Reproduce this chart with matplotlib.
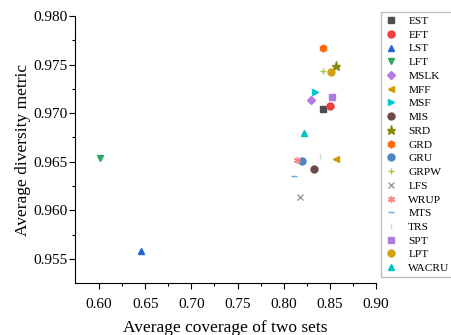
import matplotlib.pyplot as plt

plt.rcParams["font.family"] = ["Liberation Serif", "DejaVu Serif"]

names = ["EST", "EFT", "LST", "LFT", "MSLK", "MFF", "MSF", "MIS", "SRD", "GRD",
         "GRU", "GRPW", "LFS", "WRUP", "MTS", "TRS", "SPT", "LPT", "WACRU"]
coverage = [0.842, 0.850, 0.645, 0.601, 0.829, 0.857, 0.834, 0.833, 0.857, 0.843,
            0.820, 0.843, 0.818, 0.814, 0.811, 0.839, 0.852, 0.851, 0.822]
diversity = [0.9704, 0.9707, 0.9558, 0.9654, 0.9714, 0.9653, 0.9722, 0.9642, 0.9749, 0.9767,
             0.9651, 0.9743, 0.9614, 0.9652, 0.9635, 0.9656, 0.9717, 0.9742, 0.9680]

markers = ["s", "o", "^", "v", "D", "<", ">", "o", "*", "h",
           "o", "+", "x", (6, 2, 0), "_", "|", "s", "o", "^"]
colors = ["#4d4d4d", "#f23d3d", "#1f64d8", "#2aa85c", "#b57be6", "#d09a00", "#00c8d2",
          "#6e4848", "#8a8a10", "#ff6a10", "#4c86c8", "#9ccc3a", "#9a9a9a", "#ff8080",
          "#70a8f0", "#bfe6cf", "#b07be0", "#d4a010", "#00c2c2"]

fig = plt.figure(figsize=(4.52, 3.35), dpi=100)
ax = fig.add_axes([0.166, 0.155, 0.666, 0.797])

for name, x, y, m, c in zip(names, coverage, diversity, markers, colors):
    size = 5
    if m == "D":
        size = 4
    elif m == "*":
        size = 6.5
    ax.plot([x], [y], linestyle="none", marker=m, color=c, markersize=size,
            markeredgewidth=1.0, label=name)

ax.set_xlim(0.574, 0.90)
ax.set_ylim(0.9525, 0.980)
ax.set_xticks([0.60, 0.65, 0.70, 0.75, 0.80, 0.85, 0.90])
ax.set_xticks([0.625, 0.675, 0.725, 0.775, 0.825, 0.875], minor=True)
ax.set_yticks([0.955, 0.960, 0.965, 0.970, 0.975, 0.980])
ax.set_yticks([0.9575, 0.9625, 0.9675, 0.9725, 0.9775], minor=True)
ax.xaxis.set_major_formatter(plt.FormatStrFormatter("%.2f"))
ax.yaxis.set_major_formatter(plt.FormatStrFormatter("%.3f"))
ax.tick_params(axis="both", which="major", labelsize=11, length=4, width=0.8, direction="out")
ax.tick_params(axis="both", which="minor", length=2.5, width=0.8, direction="out")
ax.tick_params(axis="x", which="major", pad=7)
ax.tick_params(axis="y", which="major", pad=1)
ax.spines["top"].set_visible(False)
ax.spines["right"].set_visible(False)

ax.set_xlabel("Average coverage of two sets", fontsize=12.5, labelpad=6)
ax.set_ylabel("Average diversity metric", fontsize=12.5, labelpad=2)

ax.legend(loc="upper left", bbox_to_anchor=(1.018, 1.015), fontsize=8.2, frameon=True,
          fancybox=False, edgecolor="#b0b0b0", handlelength=1.0, handletextpad=1.0,
          labelspacing=0.33, borderpad=0.35, borderaxespad=0)

fig.savefig("out.png", dpi=100)
